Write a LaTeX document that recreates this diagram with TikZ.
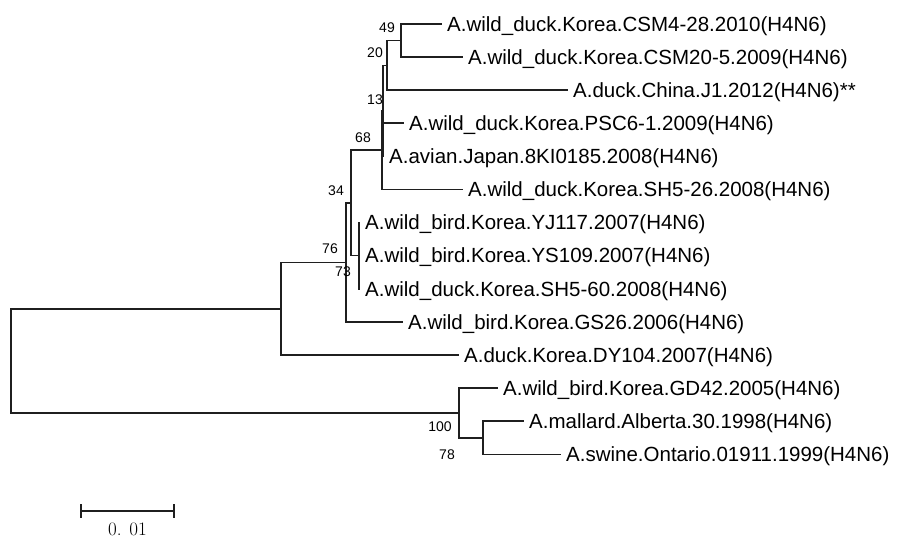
\documentclass[tikz,border=0pt]{standalone}
\usepackage{fontspec}
\newfontfamily\arialfont{Liberation Sans}
\begin{document}
\begin{tikzpicture}[x=1pt,y=-1pt,
  br/.style={line width=1.6pt, line cap=rect, draw=black!88},
  leaf/.style={anchor=base west, inner sep=0pt, xshift=6pt, yshift=-7.3pt,
    font=\arialfont\fontsize{20.5}{22}\selectfont},
  boot/.style={inner sep=0pt, font=\arialfont\fontsize{14}{15}\selectfont},
  scalelbl/.style={inner sep=0pt, font=\fontsize{19}{21}\selectfont}]
\useasboundingbox (0,0) rectangle (918,537);
% internal nodes
\coordinate (root) at (11,360.8);
\coordinate (nA) at (281,308.7);
\coordinate (nB) at (459,412.9);
\coordinate (n76) at (346,262.4);
\coordinate (n34) at (351,203);
\coordinate (n68) at (382,150.2);
\coordinate (n13) at (383,110.9);
\coordinate (n20) at (387,65.4);
\coordinate (n49) at (401,40.55);
\coordinate (n73) at (359,255.7);
\coordinate (n78) at (483,437.75);
% leaf tips
\coordinate (t1) at (441,24);
\coordinate (t2) at (462,57.1);
\coordinate (t3) at (567,90.2);
\coordinate (t4) at (403,123.3);
\coordinate (t5) at (383,156.4);
\coordinate (t6) at (462,189.5);
\coordinate (t7) at (359,222.6);
\coordinate (t8) at (359,255.7);
\coordinate (t9) at (359,288.8);
\coordinate (t10) at (402,321.9);
\coordinate (t11) at (458,355);
\coordinate (t12) at (497,388.1);
\coordinate (t13) at (523,421.2);
\coordinate (t14) at (560,454.3);
% branches
\draw[br] (root) |- (nA);
\draw[br] (root) |- (nB);
\draw[br] (nA) |- (n76);
\draw[br] (nA) |- (t11);
\draw[br] (n76) |- (n34);
\draw[br] (n76) |- (t10);
\draw[br] (n34) |- (n68);
\draw[br] (n34) |- (n73);
\draw[br] (n73) |- (t7);
\draw[br] (n73) |- (t9);
\draw[br] (n68) |- (n13);
\draw[br] (n68) |- (t6);
\draw[br] (n13) |- (n20);
\draw[br] (n13) |- (t4);
\draw[br] (n13) |- (t5);
\draw[br] (n20) |- (n49);
\draw[br] (n20) |- (t3);
\draw[br] (n49) |- (t1);
\draw[br] (n49) |- (t2);
\draw[br] (nB) |- (t12);
\draw[br] (nB) |- (n78);
\draw[br] (n78) |- (t13);
\draw[br] (n78) |- (t14);
% leaf labels
\node[leaf] (l1) at (t1) {A.wild\_duck.Korea.CSM4-28.2010(H4N6)};
\node[leaf] (l2) at (t2) {A.wild\_duck.Korea.CSM20-5.2009(H4N6)};
\node[leaf] (l3) at (t3) {A.duck.China.J1.2012(H4N6)**};
\node[leaf] (l4) at (t4) {A.wild\_duck.Korea.PSC6-1.2009(H4N6)};
\node[leaf] (l5) at (t5) {A.avian.Japan.8KI0185.2008(H4N6)};
\node[leaf] (l6) at (t6) {A.wild\_duck.Korea.SH5-26.2008(H4N6)};
\node[leaf] (l7) at (t7) {A.wild\_bird.Korea.YJ117.2007(H4N6)};
\node[leaf] (l8) at (t8) {A.wild\_bird.Korea.YS109.2007(H4N6)};
\node[leaf] (l9) at (t9) {A.wild\_duck.Korea.SH5-60.2008(H4N6)};
\node[leaf] (l10) at (t10) {A.wild\_bird.Korea.GS26.2006(H4N6)};
\node[leaf] (l11) at (t11) {A.duck.Korea.DY104.2007(H4N6)};
\node[leaf] (l12) at (t12) {A.wild\_bird.Korea.GD42.2005(H4N6)};
\node[leaf] (l13) at (t13) {A.mallard.Alberta.30.1998(H4N6)};
\node[leaf] (l14) at (t14) {A.swine.Ontario.01911.1999(H4N6)};
% bootstrap values
\node[boot] (b49) at (387,28) {49};
\node[boot] (b20) at (375,53) {20};
\node[boot] (b13) at (375,100) {13};
\node[boot] (b68) at (363,138) {68};
\node[boot] (b34) at (336,191) {34};
\node[boot] (b76) at (330,249) {76};
\node[boot] (b73) at (343,272) {73};
\node[boot] (b100) at (440,427) {100};
\node[boot] (b78) at (447,455) {78};
% scale bar
\coordinate (s1) at (81,511);
\coordinate (s2) at (174,511);
\coordinate (s1a) at (81,505);
\coordinate (s1b) at (81,517);
\coordinate (s2a) at (174,505);
\coordinate (s2b) at (174,517);
\draw[br, line width=1.3pt] (s1) -- (s2);
\draw[br, line width=1.3pt] (s1a) -- (s1b);
\draw[br, line width=1.3pt] (s2a) -- (s2b);
\node[scalelbl] (sl) at (127.5,529) {0. 01};
\end{tikzpicture}
\end{document}
